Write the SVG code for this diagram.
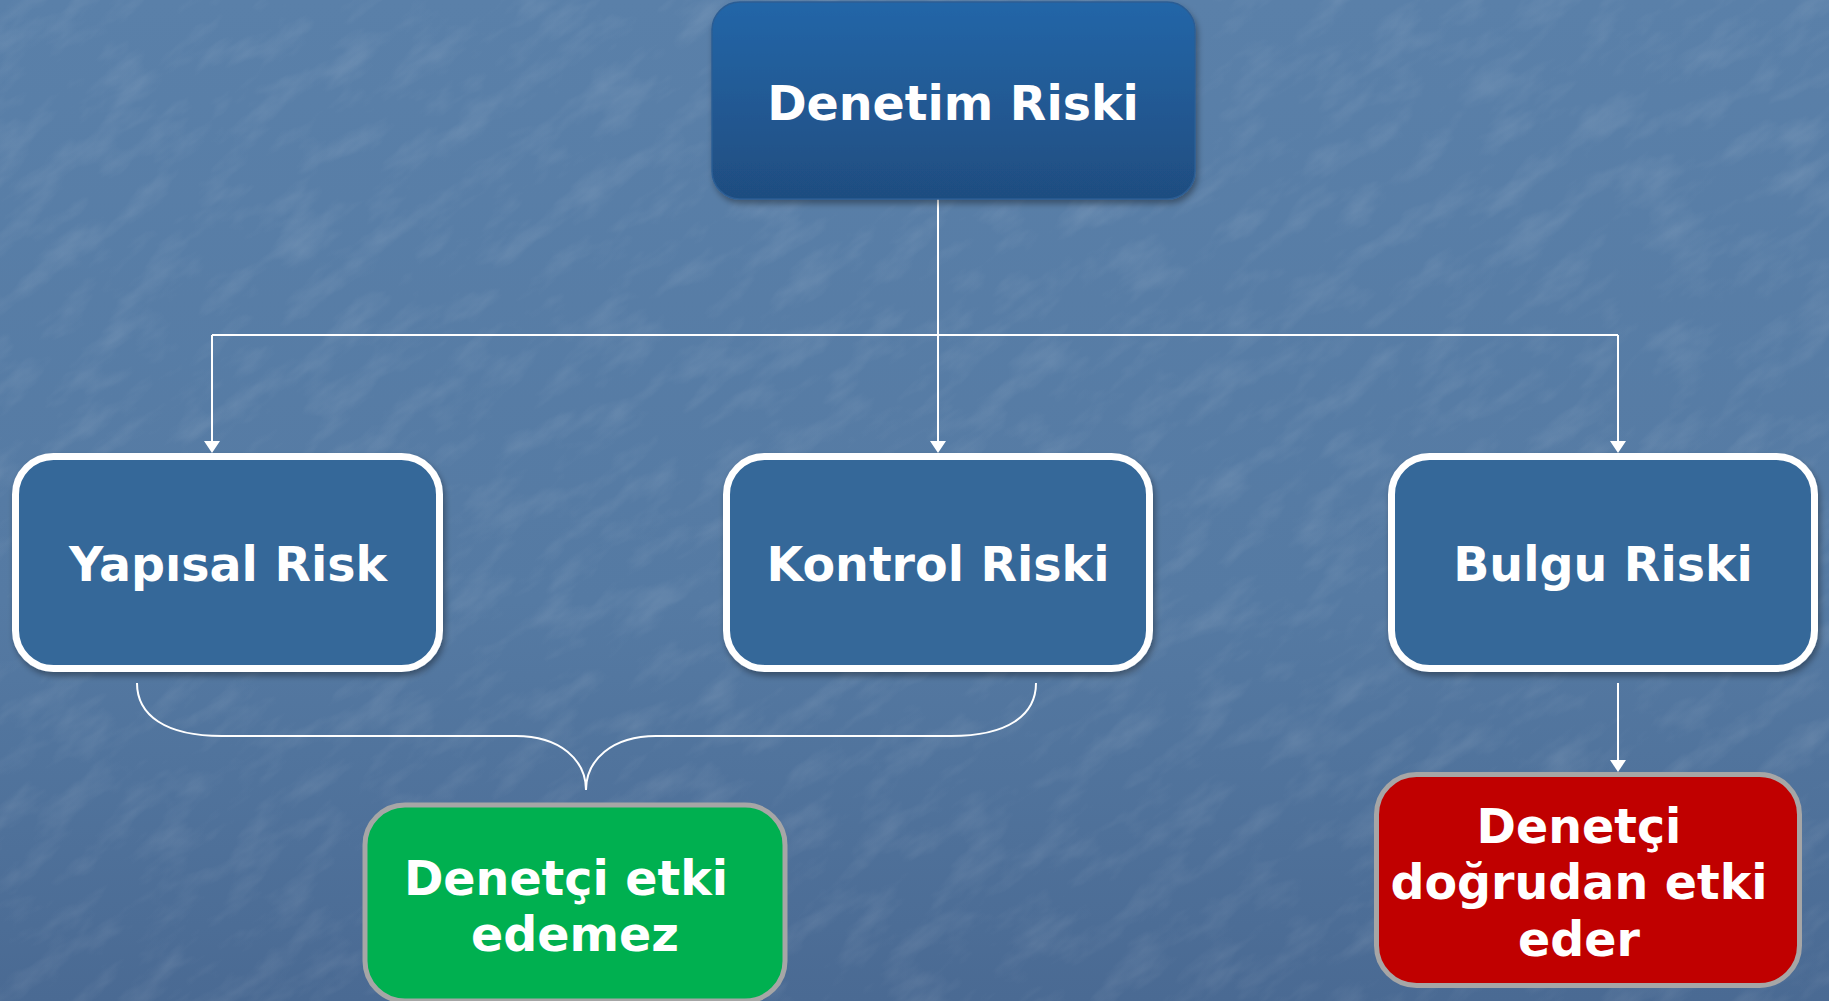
<svg xmlns="http://www.w3.org/2000/svg" width="1829" height="1001" viewBox="0 0 1829 1001">
<defs>
<linearGradient id="bg" x1="0" y1="0" x2="0" y2="1">
<stop offset="0" stop-color="#5a80a9"/>
<stop offset="0.6" stop-color="#557aa3"/>
<stop offset="1" stop-color="#4a6a93"/>
</linearGradient>
<linearGradient id="topg" x1="0" y1="0" x2="0" y2="1">
<stop offset="0" stop-color="#2466a8"/>
<stop offset="1" stop-color="#1f4d80"/>
</linearGradient>
<filter id="tex" x="0" y="0" width="100%" height="100%">
<feTurbulence type="fractalNoise" baseFrequency="0.015 0.04" numOctaves="4" seed="7" result="n"/>
<feColorMatrix in="n" type="matrix" values="0 0 0 0 1  0 0 0 0 1  0 0 0 0 1  0 0 0 1.5 -0.7"/>
</filter>
<filter id="sh" x="-10%" y="-10%" width="125%" height="130%">
<feDropShadow dx="2" dy="4" stdDeviation="3" flood-color="#000" flood-opacity="0.35"/>
</filter>
<style>
.lbl{font-family:"DejaVu Sans","Liberation Sans",sans-serif;font-weight:bold;font-size:47.5px;fill:#ffffff;text-anchor:middle}
.blue{fill:#356899;stroke:#ffffff;stroke-width:7}
.con{fill:none;stroke:#ffffff;stroke-width:2}
.head{fill:#ffffff}
</style>
</defs>
<rect x="0" y="0" width="1829" height="1001" fill="url(#bg)"/>
<g transform="rotate(-35 914 500)" opacity="0.2">
<rect x="-600" y="-600" width="3000" height="2200" filter="url(#tex)"/>
</g>
<rect x="0" y="0" width="1829" height="1001" fill="url(#bg)" opacity="0.3"/>

<g id="connectors">
<path class="con" d="M212 335 H1618"/>
<path class="con" d="M212 335 V441"/>
<path class="con" d="M938 199 V441"/>
<path class="con" d="M1618 335 V441"/>
<path class="head" d="M204 441 H220 L212 453 Z M930 441 H946 L938 453 Z M1610 441 H1626 L1618 453 Z"/>
<path class="con" d="M1618 683 V760"/>
<path class="head" d="M1610 760 H1626 L1618 772 Z"/>
<path class="con" d="M137 683 C137 715 165 736 222 736 H516 C560 736 586 760 586 790 C586 760 612 736 656 736 H951 C1008 736 1036 715 1036 683"/>
</g>

<g id="node-denetim-riski">
<rect x="712" y="2" width="483" height="197" rx="28" fill="url(#topg)" stroke="#2b5d94" stroke-width="1.5" filter="url(#sh)"/>
<text class="lbl" x="953" y="120">Denetim Riski</text>
</g>

<g id="node-yapisal-risk">
<rect class="blue" x="15.5" y="456.5" width="424" height="212" rx="38" filter="url(#sh)"/>
<text class="lbl" x="228" y="581">Yapısal Risk</text>
</g>

<g id="node-kontrol-riski">
<rect class="blue" x="726.5" y="456.5" width="423" height="212" rx="38" filter="url(#sh)"/>
<text class="lbl" x="938" y="581">Kontrol Riski</text>
</g>

<g id="node-bulgu-riski">
<rect class="blue" x="1391.5" y="456.5" width="423" height="212" rx="38" filter="url(#sh)"/>
<text class="lbl" x="1603" y="581">Bulgu Riski</text>
</g>

<g id="node-denetci-etki-edemez">
<rect x="365" y="805" width="420" height="196" rx="40" fill="#00b050" stroke="#a6a6a6" stroke-width="5"/>
<text class="lbl" x="566" y="895">Denetçi etki</text>
<text class="lbl" x="575" y="951">edemez</text>
</g>

<g id="node-denetci-dogrudan-etki-eder">
<rect x="1376.5" y="774.5" width="423" height="211" rx="40" fill="#c00000" stroke="#a6a6a6" stroke-width="5"/>
<text class="lbl" x="1579" y="843">Denetçi</text>
<text class="lbl" x="1579" y="899">doğrudan etki</text>
<text class="lbl" x="1579" y="956">eder</text>
</g>
</svg>
